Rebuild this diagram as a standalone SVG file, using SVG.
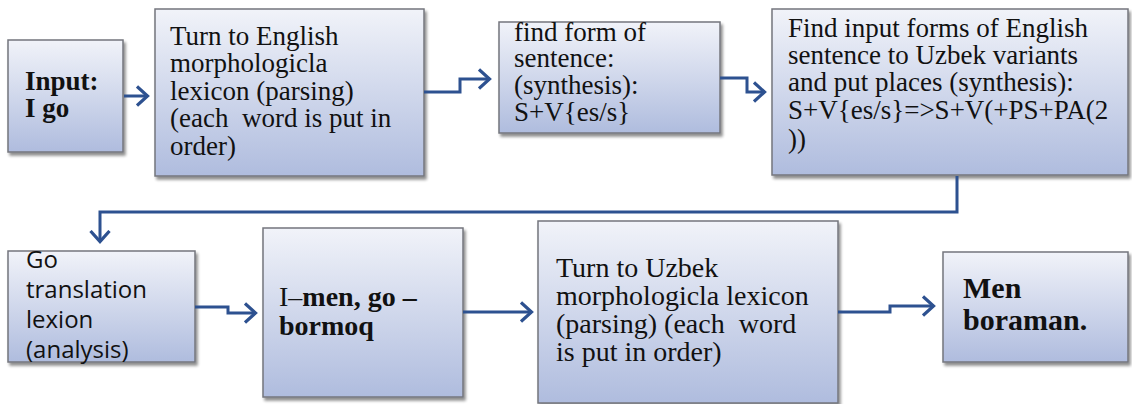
<svg xmlns="http://www.w3.org/2000/svg" width="1132" height="404" viewBox="0 0 1132 404">
<defs>
<linearGradient id="g" x1="0" y1="0" x2="0" y2="1">
<stop offset="0" stop-color="#f1f3f9"/>
<stop offset="1" stop-color="#afbcde"/>
</linearGradient>
<filter id="sh" x="-10%" y="-10%" width="130%" height="130%">
<feGaussianBlur in="SourceAlpha" stdDeviation="1.5"/>
<feOffset dx="2" dy="3" result="b"/>
<feComponentTransfer><feFuncA type="linear" slope="0.45"/></feComponentTransfer>
<feMerge><feMergeNode/><feMergeNode in="SourceGraphic"/></feMerge>
</filter>
<marker id="ah" viewBox="0 0 14 22" refX="12.5" refY="11" markerWidth="14" markerHeight="22" markerUnits="userSpaceOnUse" orient="auto">
<path d="M1.5,1.5 L12,11 L1.5,20.5" fill="none" stroke="#2d5190" stroke-width="3.2"/>
</marker>
</defs>
<style>
.box{fill:url(#g);stroke:#74767d;stroke-width:1.5;filter:url(#sh)}
.t{font-family:"Liberation Serif","Times New Roman",serif;font-size:27px;fill:#111}
.b{font-weight:bold}
.s{font-family:"Open Sans","Noto Sans",sans-serif;font-size:24px;fill:#111}
.c{fill:none;stroke:#2d5190;stroke-width:3;marker-end:url(#ah)}
</style>
<rect width="1132" height="404" fill="#fff"/>

<g id="n1">
<rect class="box" x="8" y="40" width="115" height="112"/>
<text class="t b" x="25" y="90">Input:</text>
<text class="t b" x="25" y="117">I go</text>
</g>
<g id="n2">
<rect class="box" x="155" y="9" width="269" height="167"/>
<text class="t" x="170" y="45">Turn to English</text>
<text class="t" x="170" y="72">morphologicla</text>
<text class="t" x="170" y="100">lexicon (parsing)</text>
<text class="t" x="170" y="127" xml:space="preserve">(each  word is put in</text>
<text class="t" x="170" y="155">order)</text>
</g>
<g id="n3">
<rect class="box" x="499" y="22" width="221" height="111"/>
<text class="t" x="514" y="41">find form of</text>
<text class="t" x="514" y="67">sentence:</text>
<text class="t" x="514" y="94">(synthesis):</text>
<text class="t" x="514" y="121">S+V{es/s}</text>
</g>
<g id="n4">
<rect class="box" x="772" y="9" width="356" height="166"/>
<text class="t" x="788" y="37">Find input forms of English</text>
<text class="t" x="788" y="64">sentence to Uzbek variants</text>
<text class="t" x="788" y="91">and put places (synthesis):</text>
<text class="t" x="788" y="119">S+V{es/s}=&gt;S+V(+PS+PA(2</text>
<text class="t" x="788" y="148">))</text>
</g>
<g id="n5">
<rect class="box" x="8" y="251" width="187" height="111"/>
<text class="s" x="26" y="268">Go</text>
<text class="s" x="26" y="298">translation</text>
<text class="s" x="26" y="328">lexion</text>
<text class="s" x="26" y="358">(analysis)</text>
</g>
<g id="n6">
<rect class="box" x="263" y="228" width="200" height="169"/>
<text class="t" x="279" y="306" style="font-size:28px">I–<tspan class="b">men, go –</tspan></text>
<text class="t b" x="279" y="335" style="font-size:28px">bormoq</text>
</g>
<g id="n7">
<rect class="box" x="538" y="221" width="300" height="182"/>
<text class="t" x="556" y="277" style="font-size:28px">Turn to Uzbek</text>
<text class="t" x="556" y="305" style="font-size:28px">morphologicla lexicon</text>
<text class="t" x="556" y="333" style="font-size:28px" xml:space="preserve">(parsing) (each  word</text>
<text class="t" x="556" y="361" style="font-size:28px">is put in order)</text>
</g>
<g id="n8">
<rect class="box" x="943" y="252" width="185" height="110"/>
<text class="t b" x="963" y="298" style="font-size:30px">Men</text>
<text class="t b" x="963" y="330" style="font-size:30px">boraman.</text>
</g>

<g id="connectors">
<path class="c" d="M124,96 H148"/>
<path class="c" d="M424,92 H460 V79 H490"/>
<path class="c" d="M720,78 H747 V92 H765"/>
<path class="c" d="M957,176 V212 H100 V242"/>
<path class="c" d="M195,307 H228 V313 H256"/>
<path class="c" d="M463,312 H532"/>
<path class="c" d="M838,312 H890 V306 H934"/>
</g>
</svg>
